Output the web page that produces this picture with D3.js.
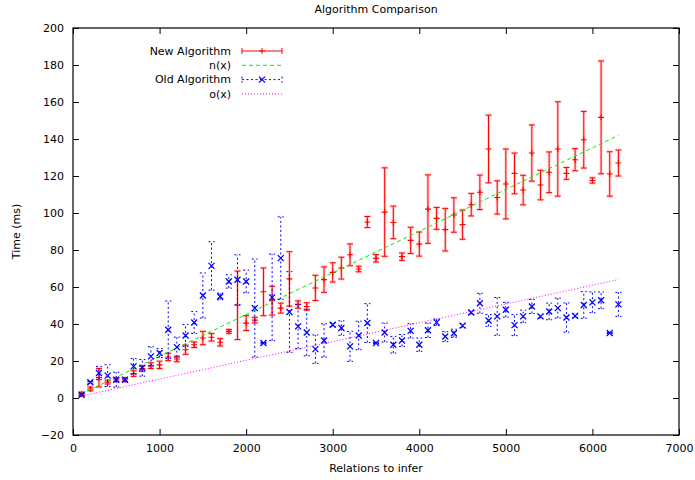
<!DOCTYPE html>
<html>
<head>
<meta charset="utf-8">
<script src="https://cdn.jsdelivr.net/npm/d3@7"></script>
<style>
  body { margin: 0; background: #fff; }
  text { font-family: "DejaVu Sans", sans-serif; font-size: 11px; fill: #000; }
</style>
</head>
<body>
<svg id="chart" width="695" height="480"></svg>
<script>
// relations to infer (x)
const relations = [100, 200, 300, 400, 500, 600, 700, 800, 900, 1000,
  1100, 1200, 1300, 1400, 1500, 1600, 1700, 1800, 1900, 2000,
  2100, 2200, 2300, 2400, 2500, 2600, 2700, 2800, 2900, 3000,
  3100, 3200, 3300, 3400, 3500, 3600, 3700, 3800, 3900, 4000,
  4100, 4200, 4300, 4400, 4500, 4600, 4700, 4800, 4900, 5000,
  5100, 5200, 5300, 5400, 5500, 5600, 5700, 5800, 5900, 6000,
  6100, 6200, 6300];

const newTime = [2.1, 4.9, 11, 8.6, 9.9, 9.9, 13.2, 15.9, 17.5, 17.9,
  22.2, 21.1, 26.1, 28.8, 32.4, 32.8, 30.1, 36.0, 50.1, 40.5,
  42.1, 57.4, 52.6, 48.6, 64.4, 50.5, 49.5, 59.5, 64.0, 67.9,
  70.2, 77.4, 69.7, 95.1, 75.5, 100.5, 94.9, 76.4, 85.2, 83.2,
  102.1, 97.1, 91.0, 98.9, 93.7, 104.5, 111.2, 134.6, 108.4, 115.7,
  121.4, 112.4, 132.4, 115.1, 122.0, 134.6, 121.4, 128.8, 139.6, 117.6,
  151.7, 121.1, 127.0];
const newErr = [1, 1, 5, 1, 1, 1, 1.5, 1.5, 1.5, 2,
  2, 1.5, 2.5, 1.5, 3.6, 2, 2, 1, 18.5, 4,
  1.5, 12.9, 7.8, 2.7, 14.7, 2, 2, 6.8, 6.9, 5.2,
  5.9, 5.9, 1.5, 3, 2, 23.9, 8.8, 2, 7.1, 6.5,
  18.5, 5.9, 11.5, 9.3, 7.9, 6.1, 9.3, 18.3, 9.0, 18.9,
  11, 8.0, 15.2, 8.0, 11, 25.5, 3.2, 6.0, 15.3, 1.4,
  30.5, 12, 7];

const oldTime = [1.8, 8.5, 13.5, 12.1, 9.9, 9.9, 17.1, 16.3, 22.5, 24.3,
  36.9, 27.5, 33.8, 40.8, 55.4, 71.4, 54.9, 63.0, 63.9, 63.0,
  48.6, 29.7, 54.4, 75.6, 46.5, 38.7, 35.4, 26.4, 31.1, 39.6,
  37.8, 27.9, 33.8, 40.5, 29.7, 35.4, 28.8, 31.1, 36.3, 28.8,
  36.6, 40.9, 33.2, 35.0, 39.1, 46.2, 51.2, 41.9, 44.1, 47.7,
  39.4, 44.1, 49.5, 44.1, 46.8, 48.6, 43.5, 44.4, 50.3, 51.7,
  52.8, 35.1, 50.6];
const oldErr = [0.5, 0.5, 3.6, 5.9, 4, 1, 4.2, 4.5, 5.2, 2.4,
  15.5, 5.4, 5.9, 5.9, 12.2, 13.1, 1.8, 3.6, 13.5, 6.1,
  26.5, 0.3, 23.4, 22.3, 21.8, 12, 12.6, 7.7, 9, 1,
  3.9, 8.1, 7.7, 10.5, 0.3, 5.1, 4.5, 3.2, 3.9, 3.6,
  3.9, 1.8, 2.7, 2.2, 1, 1, 5.4, 3.2, 10.2, 4,
  5.7, 3.4, 3.8, 1, 4.5, 5.4, 7.9, 1, 7.2, 5.6,
  4.5, 0.3, 6.5];

// fitted lines, end points
const nFitX = [100, 6300];
const nFitY = [2.3, 142];
const oFitX = [100, 6300];
const oFitY = [1.1, 64];

const xTicks = [0, 1000, 2000, 3000, 4000, 5000, 6000, 7000];
const yTicks = [-20, 0, 20, 40, 60, 80, 100, 120, 140, 160, 180, 200];
const legendLabels = ["New Algorithm", "n(x)", "Old Algorithm", "o(x)"];

const plotL = 73, plotR = 679, plotT = 28, plotB = 435;
const svg = d3.select("#chart");

const x = d3.scaleLinear().domain([0, 7000]).range([plotL, plotR]);
const y = d3.scaleLinear().domain([-20, 200]).range([plotB, plotT]);

// axes, ticks pointing inward
const tk = 6;
svg.append("g").attr("transform", `translate(0,${plotB})`)
  .call(d3.axisBottom(x).tickValues(xTicks).tickSize(-tk).tickPadding(9).tickFormat(d3.format("d")));
svg.append("g").attr("transform", `translate(0,${plotT})`)
  .call(d3.axisTop(x).tickValues(xTicks).tickSize(-tk).tickFormat(""));
svg.append("g").attr("transform", `translate(${plotL},0)`)
  .call(d3.axisLeft(y).tickValues(yTicks).tickSize(-tk).tickPadding(9).tickFormat(d3.format("d")));
svg.append("g").attr("transform", `translate(${plotR},0)`)
  .call(d3.axisRight(y).tickValues(yTicks).tickSize(-tk).tickFormat(""));
svg.selectAll(".domain").remove();
svg.selectAll(".tick line").attr("stroke", "#000");
svg.selectAll(".tick text").attr("font-family", "DejaVu Sans, sans-serif").attr("font-size", 11);

svg.append("rect")
  .attr("x", plotL).attr("y", plotT)
  .attr("width", plotR - plotL).attr("height", plotB - plotT)
  .attr("fill", "none").attr("stroke", "#000").attr("stroke-width", 1.2);

// labels
svg.append("text").attr("x", (plotL + plotR) / 2).attr("y", 13).attr("text-anchor", "middle")
  .text("Algorithm Comparison");
svg.append("text").attr("x", (plotL + plotR) / 2).attr("y", 472).attr("text-anchor", "middle").text("Relations to infer");
svg.append("text").attr("transform", `translate(20,${(plotT + plotB) / 2}) rotate(-90)`)
  .attr("text-anchor", "middle").text("Time (ms)");

const cap = 3, ms = 3;
const newData = relations.map((r, i) => ({ x: r, y: newTime[i], e: newErr[i] }));
const oldData = relations.map((r, i) => ({ x: r, y: oldTime[i], e: oldErr[i] }));

function errorBars(g, data, color, dash, halo) {
  const path = (d) => {
    const px = x(d.x), y0 = y(d.y - d.e), y1 = y(d.y + d.e);
    return `M${px},${y0}V${y1}M${px - cap},${y0}H${px + cap}M${px - cap},${y1}H${px + cap}`;
  };
  if (halo) {
    g.selectAll(null).data(data).enter().append("path")
      .attr("d", path).attr("fill", "none")
      .attr("stroke", color).attr("stroke-opacity", 0.18).attr("stroke-width", 3);
  }
  g.selectAll(null).data(data).enter().append("path")
    .attr("d", path).attr("fill", "none")
    .attr("stroke", color).attr("stroke-width", 1)
    .attr("stroke-dasharray", dash);
}

function plusMark(px, py) {
  return `M${px - ms},${py}H${px + ms}M${px},${py - ms}V${py + ms}`;
}
function crossMark(px, py) {
  return `M${px - ms},${py - ms}L${px + ms},${py + ms}M${px - ms},${py + ms}L${px + ms},${py - ms}`;
}

const lineGen = d3.line().x((d) => x(d[0])).y((d) => y(d[1]));

// New Algorithm
const gNew = svg.append("g");
errorBars(gNew, newData, "#ff0000", null, true);
gNew.selectAll(null).data(newData).enter().append("path")
  .attr("d", (d) => plusMark(x(d.x), y(d.y)))
  .attr("stroke", "#ff0000").attr("stroke-width", 1.1);

// n(x)
svg.append("path")
  .attr("d", lineGen(nFitX.map((v, i) => [v, nFitY[i]])))
  .attr("fill", "none").attr("stroke", "#00f000").attr("stroke-width", 1)
  .attr("stroke-dasharray", "4,3");

// Old Algorithm
const gOld = svg.append("g");
errorBars(gOld, oldData, "#0000ff", "2,2.5", false);
gOld.selectAll(null).data(oldData).enter().append("path")
  .attr("d", (d) => crossMark(x(d.x), y(d.y)))
  .attr("stroke", "#0000ff").attr("stroke-width", 1.3);

// o(x)
svg.append("path")
  .attr("d", lineGen(oFitX.map((v, i) => [v, oFitY[i]])))
  .attr("fill", "none").attr("stroke", "#ff00ff").attr("stroke-width", 1)
  .attr("stroke-dasharray", "1,2");

// legend
const lg = svg.append("g");
const lx0 = 242, lx1 = 282, ly0 = 51, lstep = 14.3;
legendLabels.forEach((label, i) => {
  const ly = ly0 + i * lstep;
  lg.append("text").attr("x", 231).attr("y", ly).attr("dy", "0.35em")
    .attr("text-anchor", "end").text(label);
});
// New Algorithm sample
lg.append("path")
  .attr("d", `M${lx0},${ly0}H${lx1}M${lx0},${ly0 - cap}V${ly0 + cap}M${lx1},${ly0 - cap}V${ly0 + cap}` + plusMark((lx0 + lx1) / 2, ly0))
  .attr("fill", "none").attr("stroke", "#ff0000").attr("stroke-width", 1);
// n(x) sample
lg.append("path").attr("d", `M${lx0},${ly0 + lstep}H${lx1}`)
  .attr("stroke", "#00f000").attr("stroke-width", 1).attr("stroke-dasharray", "4,3");
// Old Algorithm sample
const ly2 = ly0 + 2 * lstep;
lg.append("path")
  .attr("d", `M${lx0},${ly2}H${lx1}M${lx0},${ly2 - cap}V${ly2 + cap}M${lx1},${ly2 - cap}V${ly2 + cap}`)
  .attr("fill", "none").attr("stroke", "#0000ff").attr("stroke-width", 1).attr("stroke-dasharray", "2,2.5");
lg.append("path").attr("d", crossMark((lx0 + lx1) / 2, ly2))
  .attr("stroke", "#0000ff").attr("stroke-width", 1.3);
// o(x) sample
lg.append("path").attr("d", `M${lx0},${ly0 + 3 * lstep}H${lx1}`)
  .attr("stroke", "#ff00ff").attr("stroke-width", 1).attr("stroke-dasharray", "1,2");
</script>
</body>
</html>
